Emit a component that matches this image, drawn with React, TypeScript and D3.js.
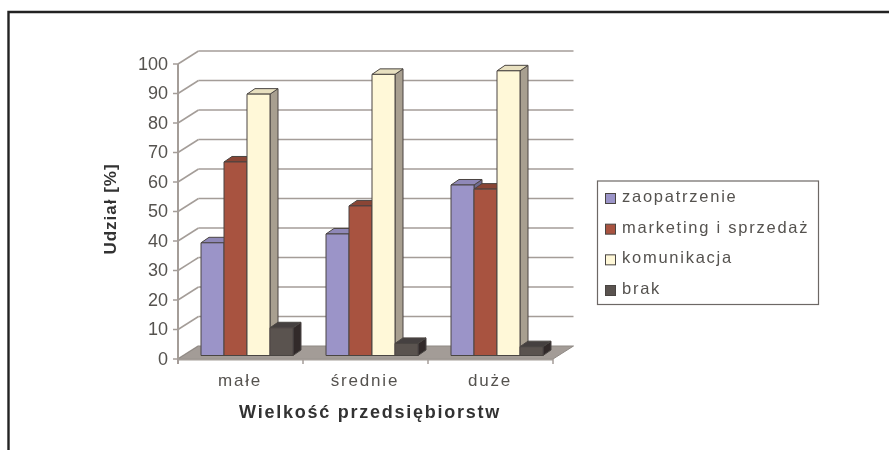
import React from "react";
import * as d3 from "d3";

const categories = ["małe", "średnie", "duże"];
const seriesNames = ["zaopatrzenie", "marketing i sprzedaż", "komunikacja", "brak"];
const zaopatrzenie = [38.2, 41.2, 57.8];
const marketing = [65.6, 50.7, 56.4];
const komunikacja = [88.6, 95.3, 96.5];
const brak = [9.4, 4.1, 3.0];
const seriesValues = [zaopatrzenie, marketing, komunikacja, brak];
const yTicks = d3.range(0, 101, 10);
const frontColors = ["#9b94c8", "#a85340", "#fff8d8", "#5a5250"];
const topColors = ["#8f88b8", "#8a4534", "#e8e0c0", "#454040"];
const sideColors = ["#6f6a90", "#7a3c2c", "#a89f90", "#302c2c"];

const FONT = "'Liberation Sans', Arial, sans-serif";
const TEXT = "#55524f";
const GRID = "#a49d98";
const EDGE = "#4a4542";

export default function App() {
  const y = d3.scaleLinear().domain([0, 100]).range([359, 64]);
  const x = d3.scaleBand<string>().domain(categories).range([178, 553]);
  const depthX = 20.5, depthY = -13;
  const barDX = 8, barDY = -5.5, baseShift = -3.5;
  const groupOffset = 23;
  const barW = 23;
  const yBar = (v: number) => y(v) + baseShift;
  const legendRow = d3.scaleLinear().domain([0, 3]).range([202, 294]);

  return (
    <svg width={889} height={450} style={{ position: "absolute", left: 0, top: 0, background: "#fff" }}>
      <defs>
        <filter id="soft" x="-2%" y="-2%" width="104%" height="104%">
          <feGaussianBlur stdDeviation="0.5" />
        </filter>
      </defs>
      <g filter="url(#soft)">
        {/* frame: top and left edges only */}
        <path d="M8.5,460 V12 H900" fill="none" stroke="#222" strokeWidth={2.4} />
        {/* back wall grid */}
        {yTicks.map((t) => (
          <g key={t} stroke={GRID} strokeWidth={1.5} fill="none">
            {t > 0 && <line x1={178 + depthX} x2={553 + depthX} y1={y(t) + depthY} y2={y(t) + depthY} />}
            <line x1={178} x2={178 + depthX} y1={y(t)} y2={y(t) + depthY} />
            <line x1={173} x2={178} y1={y(t)} y2={y(t)} />
          </g>
        ))}
        {/* floor */}
        <path
          d={`M178,${y(0)} L${178 + depthX},${y(0) + depthY} H${553 + depthX} L553,${y(0)} Z`}
          fill="#a39c97"
          stroke="#8f8984"
          strokeWidth={1}
        />
        {/* axes */}
        <line x1={178} x2={178} y1={y(100)} y2={364} stroke={GRID} strokeWidth={2} />
        <line x1={178} x2={553} y1={y(0) + 0.5} y2={y(0) + 0.5} stroke={GRID} strokeWidth={2} />
        {[...categories.map((c) => x(c)!), 553].map((px, i) => (
          <line key={i} x1={px} x2={px} y1={359} y2={364} stroke={GRID} strokeWidth={1.5} />
        ))}
        {/* bars */}
        {categories.map((c, ci) =>
          seriesValues.map((vals, si) => {
            const x0 = x(c)! + groupOffset + si * barW;
            const x1 = x0 + barW;
            const top = yBar(vals[ci]);
            const base = yBar(0);
            return (
              <g key={c + si} stroke={EDGE} strokeWidth={1} strokeLinejoin="round">
                <path
                  d={`M${x1},${top} L${x1 + barDX},${top + barDY} V${base + barDY} L${x1},${base} Z`}
                  fill={sideColors[si]}
                />
                <path
                  d={`M${x0},${top} L${x0 + barDX},${top + barDY} H${x1 + barDX} L${x1},${top} Z`}
                  fill={topColors[si]}
                />
                <rect x={x0} y={top} width={barW} height={base - top} fill={frontColors[si]} />
              </g>
            );
          })
        )}
        {/* y tick labels */}
        {yTicks.map((t) => (
          <text key={t} x={168} y={y(t) - 0.5} dy="0.36em" textAnchor="end" fontFamily={FONT} fontSize={18} fill={TEXT}>
            {t}
          </text>
        ))}
        {/* x tick labels */}
        {categories.map((c) => (
          <text
            key={c}
            x={x(c)! + x.bandwidth() / 2 - 0.5}
            y={385.5}
            textAnchor="middle"
            fontFamily={FONT}
            fontSize={17}
            letterSpacing={1.8}
            fill={TEXT}
          >
            {c}
          </text>
        ))}
        {/* axis titles */}
        <text
          x={370}
          y={418}
          textAnchor="middle"
          fontFamily={FONT}
          fontSize={18}
          fontWeight={700}
          letterSpacing={1.75}
          fill="#333"
        >
          Wielkość przedsiębiorstw
        </text>
        <text
          transform="translate(116,209) rotate(-90)"
          textAnchor="middle"
          fontFamily={FONT}
          fontSize={17}
          fontWeight={700}
          letterSpacing={1}
          fill="#333"
        >
          Udział [%]
        </text>
        {/* legend */}
        <rect x={597.5} y={181} width={221} height={123.5} fill="#fff" stroke="#6d6865" strokeWidth={1.2} />
        {seriesNames.map((n, i) => (
          <g key={n}>
            <rect x={605.5} y={legendRow(i) - 8.5} width={10} height={10} fill={frontColors[i]} stroke={EDGE} strokeWidth={1} />
            <text x={622} y={legendRow(i)} fontFamily={FONT} fontSize={16.5} letterSpacing={1.75} fill={TEXT}>
              {n}
            </text>
          </g>
        ))}
      </g>
    </svg>
  );
}
